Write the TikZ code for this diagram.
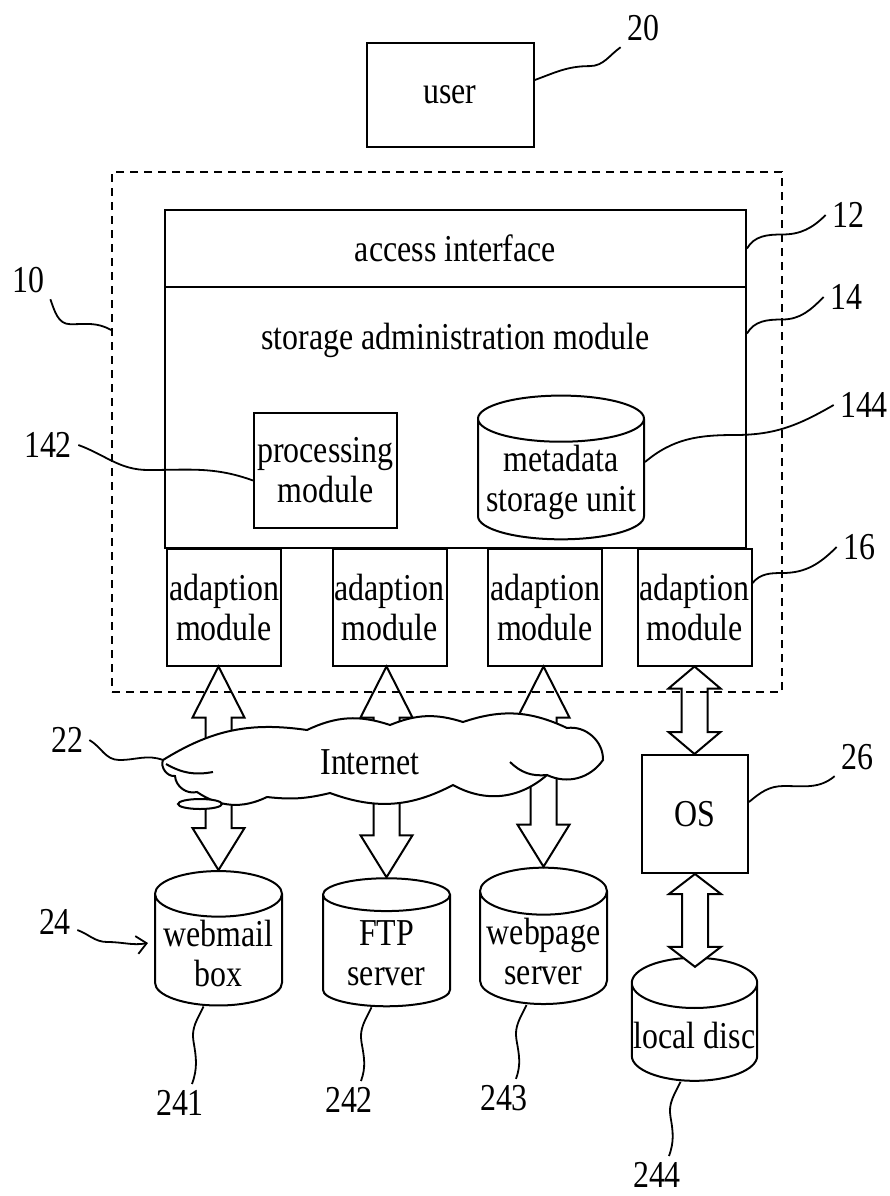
\documentclass[tikz,border=0pt]{standalone}
\usepackage{fontspec}
\setmainfont{Liberation Serif}[FakeStretch=0.84]
\usetikzlibrary{shapes.geometric,calc,arrows.meta}

\tikzset{
    box/.style={draw, line width=1pt, inner sep=1pt, align=center},
    drum/.style={cylinder, shape border rotate=90, draw, fill=white,
        line width=1pt, inner sep=1pt, align=center, aspect=0.4},
    bigarrow/.style={draw, fill=white, line width=1pt, line join=miter},
    leader/.style={line width=0.9pt},
    refnum/.style={inner sep=3pt},
    cloudline/.style={draw, line width=1pt},
}

\newcommand{\arrowup}[3]{%
    \path[bigarrow] let \p1 = #1, \p2 = #2 in
        (\x2-6.5pt,\y1) -- (\x2-6.5pt,\y2-#3) -- (\x2-13pt,\y2-#3) -- (\p2)
        -- (\x2+13pt,\y2-#3) -- (\x2+6.5pt,\y2-#3) -- (\x2+6.5pt,\y1);}
\newcommand{\arrowdown}[3]{%
    \path[bigarrow] let \p1 = #1, \p2 = #2 in
        (\x2-6.5pt,\y1) -- (\x2-6.5pt,\y2+#3) -- (\x2-13pt,\y2+#3) -- (\p2)
        -- (\x2+13pt,\y2+#3) -- (\x2+6.5pt,\y2+#3) -- (\x2+6.5pt,\y1);}
\newcommand{\arrowboth}[3]{%
    \path[bigarrow] let \p1 = #1, \p2 = #2 in
        (\p1) -- (\x1+13pt,\y1-#3) -- (\x1+6.5pt,\y1-#3) -- (\x1+6.5pt,\y2+#3)
        -- (\x1+13pt,\y2+#3) -- (\x1,\y2) -- (\x1-13pt,\y2+#3) -- (\x1-6.5pt,\y2+#3)
        -- (\x1-6.5pt,\y1-#3) -- (\x1-13pt,\y1-#3) -- cycle;}

\begin{document}
\begin{tikzpicture}[x=0.5pt, y=0.5pt, font=\fontsize{19pt}{20pt}\selectfont]
    \useasboundingbox (0,0) rectangle (890,-1196);

    \node[box, minimum width=83.5pt, minimum height=52pt] (user) at (450,-95) {user};

    \node[box, minimum width=290.5pt, minimum height=38.5pt] (acc) at (455.5,-248.5) {access interface};
    \node[box, minimum width=290.5pt, minimum height=130.5pt] (sam) at (455.5,-417.5) {};
    \node (samtxt) at (455.5,-340) {storage administration module};
    \node[box, minimum width=71.5pt, minimum height=57.5pt] (proc) at (325.5,-470.5) {processing\\module};
    \node[drum, aspect=0.3, minimum width=83pt, minimum height=62pt] (meta) at (561,-482) {metadata\\storage unit};

    \foreach \px/\n in {224/1, 389.5/2, 545/3, 694.5/4}
        \node[box, minimum width=57pt, minimum height=58.5pt] (adp\n) at (\px,-607) {adaption\\module};

    \node[box, minimum width=53pt, minimum height=59pt] (os) at (695,-814) {OS};

    \node[drum, minimum width=63.5pt, minimum height=64pt] (web) at (218.5,-953) {webmail\\box};
    \node[drum, minimum width=63.5pt, minimum height=64pt] (ftp) at (386.5,-953) {FTP\\server};
    \node[drum, minimum width=63.5pt, minimum height=64pt] (wps) at (543.5,-951) {webpage\\server};
    \node[drum, minimum width=62.5pt, minimum height=61.5pt] (disc) at (694.5,-1035.5) {local disc};

    \coordinate (netc) at (383,-759);
    \coordinate (cloudw) at (163,-760);

    \arrowup{(web.north |- netc)}{(web.north |- adp1.south)}{25.5pt}
    \arrowup{(ftp.north |- netc)}{(ftp.north |- adp2.south)}{25.5pt}
    \arrowup{(wps.north |- netc)}{(wps.north |- adp3.south)}{25.5pt}
    \arrowdown{(web.north |- netc)}{(web.north)}{21pt}
    \arrowdown{(ftp.north |- netc)}{(ftp.north)}{21pt}
    \arrowdown{(wps.north |- netc)}{(wps.north)}{21pt}
    \arrowboth{(adp4.south)}{(os.north)}{11pt}
    \arrowboth{(os.south)}{([yshift=-5pt]disc.north)}{10pt}

    \node[draw, line width=1pt, dash pattern=on 4pt off 3pt,
        minimum width=335pt, minimum height=260pt] (sys) at (447,-432) {};

    \path[cloudline, fill=white] (cloudw)
        to[bend left=20] (307,-730) to[bend left=22] (390,-725)
        to[bend left=20] (463,-722) to[bend left=22] (567,-728)
        to[bend left=50] (603,-760) to[bend left=40] (547,-775)
        to[bend left=35] (453,-785) to[bend left=24] (330,-793)
        to[bend left=10] (267,-797) to[bend left=30] (197,-792)
        to[bend left=50] (175,-776) to[bend left=60] (cloudw);
    \draw[line width=1pt] (547,-775) to[bend left=25] (510,-762);
    \draw[line width=1pt] (166,-764) to[bend right=20] (213,-772);
    \draw[line width=1pt, fill=white] (200,-804) ellipse [x radius=11pt, y radius=2.5pt];
    \node (inet) at (370,-762) {Internet};

    \foreach \n/\px/\py in {20/643/-28, 10/28/-280, 12/848/-215, 14/846/-297,
            142/48/-445, 144/864/-405, 16/859/-547, 22/67/-740, 26/857/-757,
            24/55/-922, 241/180/-1103, 242/349/-1100, 243/504/-1098, 244/657/-1175}
        \node[refnum] (n\n) at (\px,\py) {\n};

    \draw[leader] (user.10) to[out=20,in=180] ++(55,14) to[out=0,in=215] (n20.south west);
    \draw[leader] (n10.south east) to[out=-70,in=180] ++(20,-25) to[out=0,in=150] ([yshift=51pt]sys.west);
    \draw[leader] (acc.east) to[out=60,in=180] ++(35,14) to[out=0,in=225] (n12.west);
    \draw[leader] ([yshift=42pt]sam.east) to[out=60,in=180] ++(35,14) to[out=0,in=225] (n14.west);
    \draw[leader] ([yshift=10pt]meta.east) to[out=40,in=180] ++(90,27) to[out=0,in=210] (n144.west);
    \draw[leader] (n142.east) to[out=-20,in=180] ++(70,-25) to[out=0,in=160] ([yshift=-5pt]proc.west);
    \draw[leader] ([yshift=12pt]adp4.east) to[out=50,in=180] ++(30,10) to[out=0,in=225] (n16.west);
    \draw[leader] (n22.east) to[out=-30,in=180] ++(30,-20) to[out=0,in=160] (cloudw);
    \draw[leader] ([yshift=6pt]os.east) to[out=40,in=180] ++(35,16) to[out=0,in=220] (n26.south west);
    \draw[leader, -{Straight Barb[length=5pt, width=9pt]}] ([yshift=-4pt]n24.east)
        to[out=-20,in=180] ++(30,-12) to[out=0,in=190] ([xshift=-3pt,yshift=5pt]web.west);
    \draw[leader] ([xshift=-7.5pt]web.south) to[out=-115,in=100] ++(-10,-35) to[out=-80,in=70] ([xshift=6pt]n241.north);
    \draw[leader] ([xshift=-7.5pt]ftp.south) to[out=-115,in=100] ++(-10,-35) to[out=-80,in=70] ([xshift=6pt]n242.north);
    \draw[leader] ([xshift=-8.5pt]wps.south) to[out=-115,in=100] ++(-10,-35) to[out=-80,in=70] ([xshift=6pt]n243.north);
    \draw[leader] ([xshift=-7pt]disc.south) to[out=-115,in=100] ++(-10,-35) to[out=-80,in=70] ([xshift=6pt]n244.north);
\end{tikzpicture}
\end{document}
